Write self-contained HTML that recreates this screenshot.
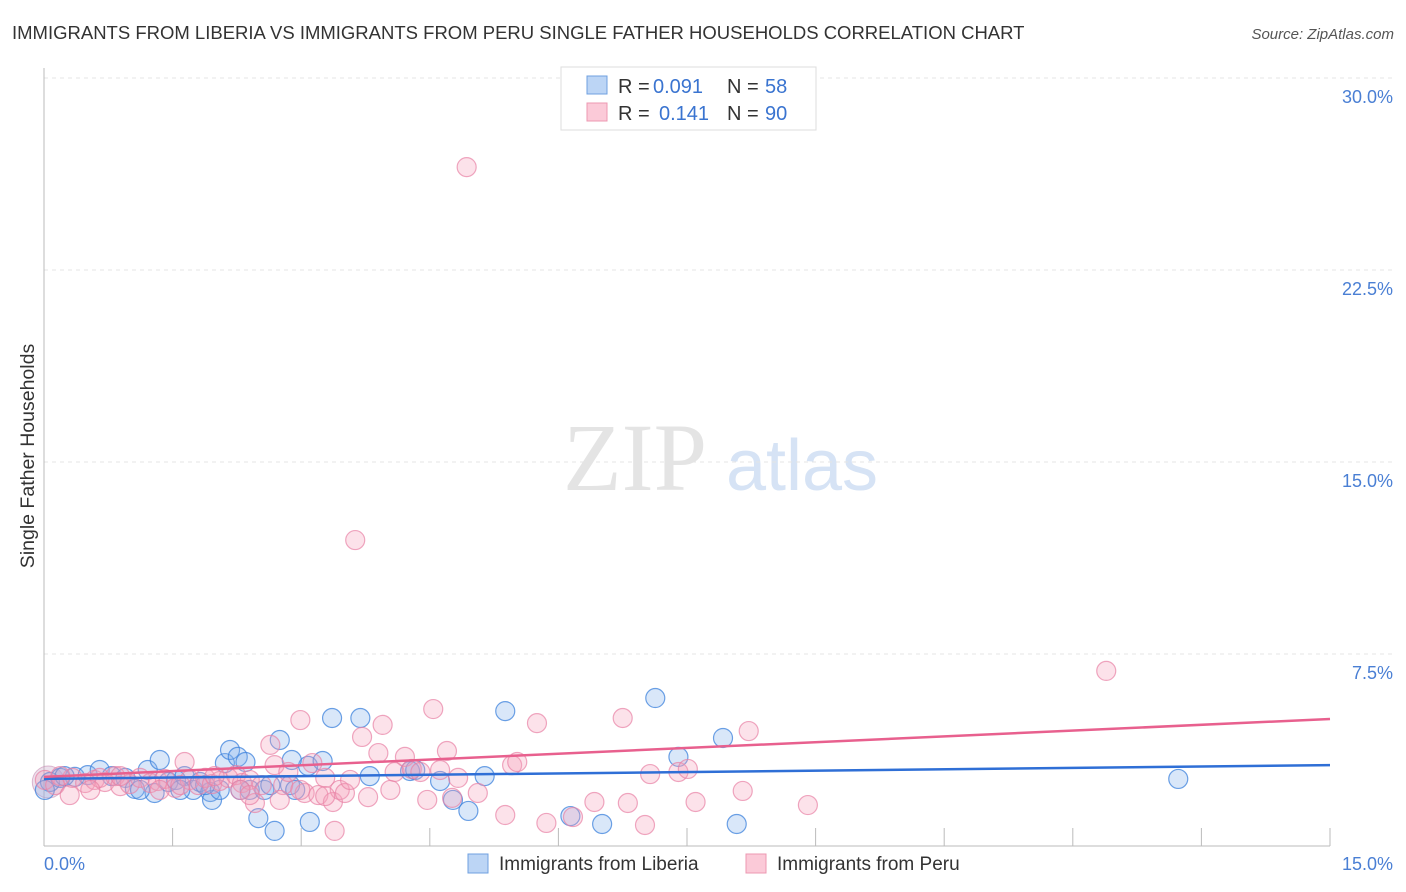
<!DOCTYPE html>
<html><head><meta charset="utf-8"><style>
body{margin:0;background:#fff;font-family:"Liberation Sans",sans-serif;}
svg{display:block}
</style></head><body>
<svg id="c" width="1406" height="892">
<text x="12" y="39" font-size="18.5" fill="#333">IMMIGRANTS FROM LIBERIA VS IMMIGRANTS FROM PERU SINGLE FATHER HOUSEHOLDS CORRELATION CHART</text>
<text x="1394" y="39" font-size="15" fill="#555" font-style="italic" text-anchor="end">Source: ZipAtlas.com</text>
<g>
<text x="635" y="490" font-size="96" fill="#e4e4e4" font-family="Liberation Serif" text-anchor="middle">ZIP</text>
<text x="802" y="490" font-size="72" fill="#d6e3f5" text-anchor="middle">atlas</text></g>
<text transform="translate(34,456) rotate(-90)" font-size="19.5" fill="#333" text-anchor="middle">Single Father Households</text>
<g id="grid"></g><g id="pts"></g><g id="lines"></g>
<g>
<rect x="561" y="67" width="255" height="63" fill="#fff" stroke="#ddd"/>
<rect x="587" y="76" width="20" height="18" fill="#bcd5f5" stroke="#6fa0e0"/>
<rect x="587" y="103" width="20" height="18" fill="#fbcad8" stroke="#ec98b2"/>
<text x="618" y="93" font-size="20" fill="#333">R =</text>
<text x="653" y="93" font-size="20" fill="#3a74d0">0.091</text>
<text x="727" y="93" font-size="20" fill="#333">N =</text>
<text x="765" y="93" font-size="20" fill="#3a74d0">58</text>
<text x="618" y="120" font-size="20" fill="#333">R =</text>
<text x="659" y="120" font-size="20" fill="#3a74d0">0.141</text>
<text x="727" y="120" font-size="20" fill="#333">N =</text>
<text x="765" y="120" font-size="20" fill="#3a74d0">90</text>
</g>
<g>
<rect x="468" y="854" width="20" height="19" fill="#bcd5f5" stroke="#6fa0e0"/>
<text x="499" y="870" font-size="19" fill="#333">Immigrants from Liberia</text>
<rect x="746" y="854" width="20" height="19" fill="#fbcad8" stroke="#ec98b2"/>
<text x="777" y="870" font-size="19" fill="#333">Immigrants from Peru</text>
</g>
</svg>
<script>
const yTicks=[7.5,15,22.5,30];
const yTickLabels=["7.5%","15.0%","22.5%","30.0%"];
const xTicks=[0,1.5,3,4.5,6,7.5,9,10.5,12,13.5,15];
const libX=[0.07,0.19,0.36,0.51,0.65,0.79,0.95,1.06,1.21,1.29,1.35,1.45,1.54,1.64,1.74,1.82,1.94,1.96,2.05,2.11,2.17,2.26,2.35,2.40,2.50,2.57,2.69,2.75,2.87,2.93,3.08,3.10,3.25,3.36,3.69,3.80,4.27,4.62,4.77,4.95,5.14,5.38,6.14,6.51,7.13,7.40,7.92,8.08,13.23,0.01,0.24,1.12,1.59,1.88,2.29,2.89,4.33,2.64];
const libY=[2.50,2.66,2.70,2.77,2.97,2.73,2.66,2.23,2.97,2.07,3.36,2.50,2.58,2.73,2.19,2.50,2.11,1.80,2.19,3.24,3.75,3.48,3.28,2.19,1.09,2.19,0.59,4.14,2.38,2.19,3.13,0.94,3.32,5.0,5.0,2.73,2.93,2.54,1.80,1.37,2.73,5.27,1.17,0.86,5.78,3.48,4.22,0.86,2.62,2.19,2.73,2.19,2.19,2.38,2.19,3.36,2.97,2.38];
const peruX=[0.01,0.13,0.30,0.33,0.48,0.59,0.71,0.83,0.89,1.00,1.12,1.24,1.33,1.41,1.53,1.64,1.70,1.80,1.88,1.96,2.05,2.15,2.24,2.31,2.40,2.46,2.54,2.64,2.69,2.79,2.85,2.99,3.04,3.13,3.20,3.28,3.37,3.39,3.45,3.51,3.63,3.71,3.78,3.90,3.95,4.04,4.09,4.21,4.29,4.39,4.47,4.54,4.70,4.76,4.83,4.93,5.06,5.38,5.46,5.52,5.75,5.86,6.17,6.42,6.81,6.75,7.01,7.07,7.40,7.51,7.60,8.15,8.22,8.91,12.39,2.99,3.28,2.29,1.99,1.59,0.65,0.19,2.75,4.62,3.57,2.40,1.35,0.89,0.54];
const peruY=[2.58,2.38,1.99,2.66,2.46,2.58,2.50,2.73,2.34,2.42,2.66,2.46,2.54,2.62,2.27,3.28,2.58,2.38,2.66,2.42,2.54,2.66,2.77,2.46,2.58,1.68,2.38,3.95,3.16,2.38,2.89,4.92,2.07,3.24,1.99,2.66,1.72,0.59,2.19,2.07,11.95,4.26,1.91,3.63,4.73,2.19,2.89,3.48,3.01,2.89,1.80,5.35,3.71,1.88,2.66,26.52,2.07,1.21,3.16,3.28,4.80,0.90,1.13,1.72,1.68,5.0,0.82,2.81,2.89,3.01,1.72,2.15,4.49,1.60,6.84,2.19,1.95,2.19,2.73,2.38,2.66,2.73,1.80,2.97,2.58,1.99,2.19,2.73,2.19];
const libTrend=[2.62,3.16];
const peruTrend=[2.70,4.96];
const X0=44,X1=1330,Y0=846,Y1=78;
const sx=v=>X0+(v/15)*(X1-X0);
const sy=v=>Y0-(v/30)*(Y0-Y1);
const NS="http://www.w3.org/2000/svg";
function mk(t,a,p){const e=document.createElementNS(NS,t);for(const k in a)e.setAttribute(k,a[k]);p.appendChild(e);return e;}
const g=document.getElementById('grid');
yTicks.forEach((t,i)=>{
 const l=mk('line',{x1:X0,x2:1394,y1:sy(t),y2:sy(t),stroke:'#e4e4e4','stroke-dasharray':'4,4'},g);
 
 
 const tx=mk('text',{x:1393,y:sy(t)+25,'font-size':18,fill:'#4a7fd4','text-anchor':'end'},g);
 tx.textContent=yTickLabels[i];
 
 
});
const ax=mk('line',{x1:X0,x2:X0,y1:68,y2:Y0,stroke:'#bbb'},g);


const bx=mk('line',{x1:X0,x2:X1,y1:Y0,y2:Y0,stroke:'#bbb'},g);


xTicks.forEach(t=>{
 const l=mk('line',{x1:sx(t),x2:sx(t),y1:828,y2:Y0,stroke:'#bbb'},g);
 
 
});
const xl=mk('text',{x:44,y:870,'font-size':18,fill:'#4a7fd4'},g);xl.textContent='0.0%';


const xr=mk('text',{x:1393,y:870,'font-size':18,fill:'#4a7fd4','text-anchor':'end'},g);xr.textContent='15.0%';


const p=document.getElementById('pts');
const big=mk('circle',{cx:sx(0.05),cy:sy(2.5),r:16,fill:'rgba(200,170,200,0.35)',stroke:'rgba(200,140,180,0.6)'},p);


libX.forEach((x,i)=>{
 const c=mk('circle',{cx:sx(x),cy:sy(libY[i]),r:9.5,fill:'rgba(130,175,235,0.3)',stroke:'rgba(60,130,220,0.75)','stroke-width':1.2},p);
 
 
});
peruX.forEach((x,i)=>{
 const c=mk('circle',{cx:sx(x),cy:sy(peruY[i]),r:9.5,fill:'rgba(245,160,185,0.3)',stroke:'rgba(232,130,165,0.7)','stroke-width':1.2},p);
 
 
});
const L=document.getElementById('lines');
const l1=mk('line',{x1:sx(0),x2:sx(15),y1:sy(libTrend[0]),y2:sy(libTrend[1]),stroke:'#2f6fd6','stroke-width':2.5},L);


const l2=mk('line',{x1:sx(0),x2:sx(15),y1:sy(peruTrend[0]),y2:sy(peruTrend[1]),stroke:'#e8608e','stroke-width':2.5},L);


</script>
</body></html>
